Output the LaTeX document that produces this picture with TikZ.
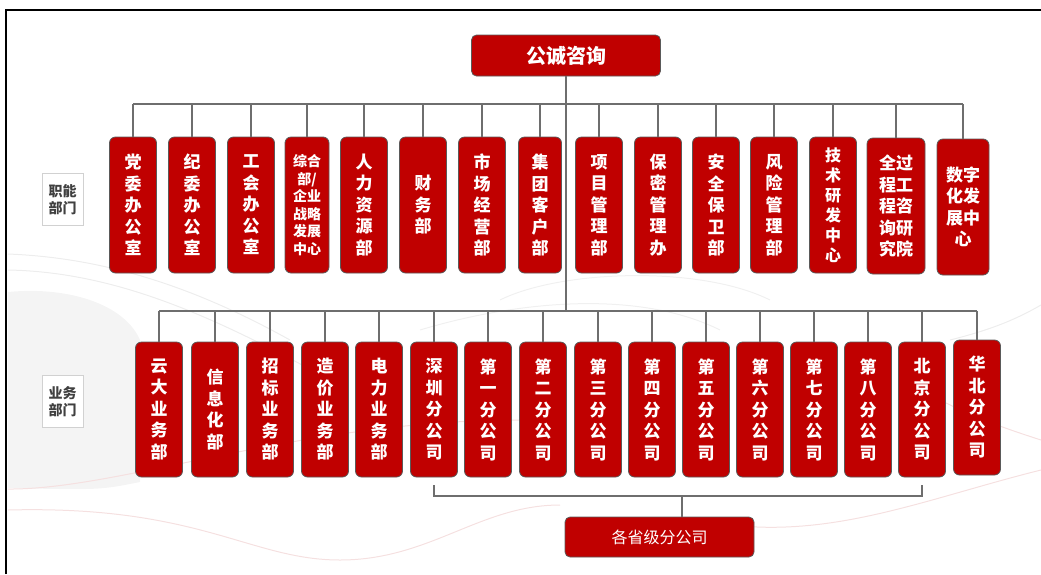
\documentclass[tikz,border=0pt]{standalone}
\usepackage{fontspec}
\setmainfont{Noto Sans CJK SC}
\usepackage{tikz}

\definecolor{orgred}{HTML}{C00000}
\definecolor{orgline}{HTML}{6E6E6E}
\definecolor{orgedge}{HTML}{5A5A5A}
\definecolor{swoosh}{HTML}{F4F4F4}
\definecolor{pinkline}{HTML}{F5E0E0}

\begin{document}
\begin{tikzpicture}[x=1pt,y=-1pt,
	dept/.style={shape=rectangle,rounded corners=6pt,draw=orgedge,fill=orgred,text=white,line width=0.8pt,align=center,inner sep=0pt,font=\fontsize{17}{21.5}\selectfont\bfseries},
	rowa/.style={dept,minimum width=47,minimum height=136},
	rowb/.style={dept,minimum width=47,minimum height=135},
	head/.style={dept,rounded corners=5pt,minimum width=189,minimum height=41,font=\fontsize{20}{24}\selectfont\bfseries},
	side/.style={shape=rectangle,draw=black!18,fill=white,text=black!75,align=center,inner sep=0pt,minimum width=41,minimum height=52,font=\fontsize{14}{17}\selectfont\bfseries},
	link/.style={draw=orgline,line width=1.6pt}]

	\useasboundingbox (0,0) rectangle (1041,574);

	% faint background waves
	\fill[swoosh] (8,292) .. controls (70,286) and (125,305) .. (140,340) -- (140,482) .. controls (100,490) .. (8,488) -- cycle;
	\draw[black!7,line width=1pt] (8,254) .. controls (110,258) and (200,290) .. (290,340);
	\draw[black!7,line width=1pt] (8,270) .. controls (120,272) and (220,320) .. (330,380);
	\draw[black!6,line width=1pt] (500,300) .. controls (560,270) and (700,265) .. (770,300);
	\draw[black!6,line width=1pt] (420,330) .. controls (520,300) and (640,290) .. (720,330);
	\draw[pinkline,line width=1pt] (8,489) .. controls (120,490) and (300,420) .. (520,420);
	\draw[pinkline,line width=1pt] (8,510) .. controls (200,505) and (250,560) .. (340,560) .. controls (430,560) and (480,505) .. (560,505);
	\draw[pinkline,line width=1pt] (700,520) .. controls (820,545) and (920,500) .. (1041,470);
	\draw[pinkline,line width=1pt] (940,400) .. controls (980,420) and (1010,430) .. (1041,440);
	\draw[black!7,line width=1pt] (950,340) .. controls (990,330) and (1015,320) .. (1041,305);

	% frame
	\draw[line width=2pt] (6,574) -- (6,10) -- (1041,10);

	% top and side labels
	\node[head] (top) at (566,55.5) {公诚咨询};
	\node[side] (fn) at (62.5,199.5) {职能\\部门};
	\node[side] (bz) at (62.5,401.5) {业务\\部门};

	% functional departments
	\node[rowa] (f1) at (133,205) {党\\委\\办\\公\\室};
	\node[rowa] (f2) at (192,205) {纪\\委\\办\\公\\室};
	\node[rowa] (f3) at (251,205) {工\\会\\办\\公\\室};
	\node[rowa,minimum width=44,font=\fontsize{14}{17.5}\selectfont\bfseries] (f4) at (307,205) {综合\\部/\\企业\\战略\\发展\\中心};
	\node[rowa] (f5) at (364,205) {人\\力\\资\\源\\部};
	\node[rowa] (f6) at (423,205) {财\\务\\部};
	\node[rowa] (f7) at (482,205) {市\\场\\经\\营\\部};
	\node[rowa,minimum width=43] (f8) at (540,205) {集\\团\\客\\户\\部};
	\node[rowa] (f9) at (599,205) {项\\目\\管\\理\\部};
	\node[rowa] (f10) at (658,205) {保\\密\\管\\理\\办};
	\node[rowa] (f11) at (716,205) {安\\全\\保\\卫\\部};
	\node[rowa] (f12) at (774,205) {风\\险\\管\\理\\部};
	\node[rowa,font=\fontsize{16}{20}\selectfont\bfseries] (f13) at (833,205) {技\\术\\研\\发\\中\\心};
	\node[rowa,minimum width=58] (f14) at (896,206) {全过\\程工\\程咨\\询研\\究院};
	\node[rowa,minimum width=52] (f15) at (963,207) {数字\\化发\\展中\\心};

	% business departments
	\node[rowb] (b1) at (159,409.5) {云\\大\\业\\务\\部};
	\node[rowb] (b2) at (215,409.5) {信\\息\\化\\部};
	\node[rowb] (b3) at (270,409.5) {招\\标\\业\\务\\部};
	\node[rowb] (b4) at (325,409.5) {造\\价\\业\\务\\部};
	\node[rowb] (b5) at (379,409.5) {电\\力\\业\\务\\部};
	\node[rowb] (b6) at (434,409.5) {深\\圳\\分\\公\\司};
	\node[rowb] (b7) at (488,409.5) {第\\一\\分\\公\\司};
	\node[rowb] (b8) at (543,409.5) {第\\二\\分\\公\\司};
	\node[rowb] (b9) at (598,409.5) {第\\三\\分\\公\\司};
	\node[rowb] (b10) at (652,409.5) {第\\四\\分\\公\\司};
	\node[rowb] (b11) at (706,409.5) {第\\五\\分\\公\\司};
	\node[rowb] (b12) at (760,409.5) {第\\六\\分\\公\\司};
	\node[rowb] (b13) at (814,409.5) {第\\七\\分\\公\\司};
	\node[rowb] (b14) at (868,409.5) {第\\八\\分\\公\\司};
	\node[rowb] (b15) at (922,409.5) {北\\京\\分\\公\\司};
	\node[rowb] (b16) at (977,407.5) {华\\北\\分\\公\\司};

	\node[dept,rounded corners=5pt,minimum width=189,minimum height=40,font=\fontsize{16}{20}\selectfont] (prov) at (659.5,537) {各省级分公司};

	\coordinate (bus1) at (0,104);
	\coordinate (bus2) at (0,311);
	\coordinate (brk) at (0,496);
	\coordinate (stem) at (682,496);

	% trunk and buses
	\draw[link] (top.south) -- (top.south |- bus2);
	\draw[link] (f1.north |- bus1) -- (f15.north |- bus1);
	\draw[link] (b1.north |- bus2) -- (b16.north |- bus2);

	\path[link] (f1.north |- bus1) edge (f1.north) (f2.north |- bus1) edge (f2.north)
		(f3.north |- bus1) edge (f3.north) (f4.north |- bus1) edge (f4.north)
		(f5.north |- bus1) edge (f5.north) (f6.north |- bus1) edge (f6.north)
		(f7.north |- bus1) edge (f7.north) (f8.north |- bus1) edge (f8.north)
		(f9.north |- bus1) edge (f9.north) (f10.north |- bus1) edge (f10.north)
		(f11.north |- bus1) edge (f11.north) (f12.north |- bus1) edge (f12.north)
		(f13.north |- bus1) edge (f13.north) (f14.north |- bus1) edge (f14.north)
		(f15.north |- bus1) edge (f15.north);

	\path[link] (b1.north |- bus2) edge (b1.north) (b2.north |- bus2) edge (b2.north)
		(b3.north |- bus2) edge (b3.north) (b4.north |- bus2) edge (b4.north)
		(b5.north |- bus2) edge (b5.north) (b6.north |- bus2) edge (b6.north)
		(b7.north |- bus2) edge (b7.north) (b8.north |- bus2) edge (b8.north)
		(b9.north |- bus2) edge (b9.north) (b10.north |- bus2) edge (b10.north)
		(b11.north |- bus2) edge (b11.north) (b12.north |- bus2) edge (b12.north)
		(b13.north |- bus2) edge (b13.north) (b14.north |- bus2) edge (b14.north)
		(b15.north |- bus2) edge (b15.north) (b16.north |- bus2) edge (b16.north);

	% provincial branches
	\draw[link] ([yshift=-8pt]b6.south) -- (b6.south |- brk) -- (b15.south |- brk) -- ([yshift=-8pt]b15.south);
	\draw[link] (stem) -- (stem |- prov.north);

\end{tikzpicture}
\end{document}
